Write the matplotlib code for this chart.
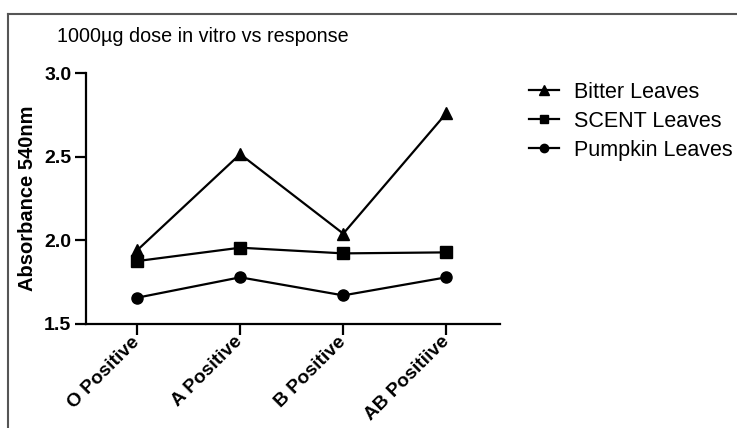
import matplotlib
matplotlib.use("Agg")
import matplotlib.pyplot as plt
from matplotlib.lines import Line2D

plt.rcParams['font.family'] = ['Liberation Sans', 'DejaVu Sans']

categories = ["O Positive", "A Positive", "B Positive", "AB Positiive"]
bitter = [1.94, 2.515, 2.04, 2.76]
scent = [1.876, 1.956, 1.922, 1.928]
pumpkin = [1.657, 1.779, 1.671, 1.779]
series_names = ["Bitter Leaves", "SCENT Leaves", "Pumpkin Leaves"]
y_ticks = [1.5, 2.0, 2.5, 3.0]

W, H = 737, 428
fig = plt.figure(figsize=(W / 100, H / 100), dpi=100)
ax = fig.add_axes([86 / W, 1 - 324 / H, (500 - 86) / W, (324 - 73) / H])

x = list(range(len(categories)))
ax.plot(x, bitter, color='black', lw=1.6, marker='^', ms=9, label=series_names[0])
ax.plot(x, scent, color='black', lw=1.6, marker='s', ms=8, label=series_names[1])
ax.plot(x, pumpkin, color='black', lw=1.6, marker='o', ms=8, label=series_names[2])

ax.set_xlim(-0.495, 3.52)
ax.set_ylim(1.5, 3.0)
ax.set_yticks(y_ticks)
ax.set_yticklabels([f"{v:.1f}" for v in y_ticks], fontweight='bold', fontsize=14)
ax.set_xticks(x)
ax.set_xticklabels(categories, rotation=45, ha='right', va='center',
                   rotation_mode='anchor', fontweight='bold', fontsize=13.8)
ax.tick_params(axis='y', direction='out', length=8, width=1.6, pad=2.5)
ax.tick_params(axis='x', direction='out', length=8, width=1.6, pad=3)
for s in ['top', 'right']:
    ax.spines[s].set_visible(False)
for s in ['left', 'bottom']:
    ax.spines[s].set_linewidth(1.6)
ax.set_ylabel("Absorbance 540nm", fontweight='bold', fontsize=14.5, labelpad=5)

fig.text(57 / W, 1 - 36 / H, "1000\u00b5g dose in vitro vs response", fontsize=14.2,
         ha='left', va='center')

leg = ax.legend(loc='upper left', bbox_to_anchor=(520 / W, 1 - 73 / H),
                bbox_transform=fig.transFigure, frameon=False, fontsize=15.5,
                handlelength=1.4, handletextpad=0.7, labelspacing=0.38,
                borderaxespad=0, markerscale=0.75)

# figure frame lines (top and left)
fig.add_artist(Line2D([8 / W, 1], [1 - 14 / H, 1 - 14 / H], color='#555555', lw=1.5,
                      transform=fig.transFigure))
fig.add_artist(Line2D([8 / W, 8 / W], [0, 1 - 14 / H], color='#555555', lw=1.5,
                      transform=fig.transFigure))

fig.savefig("out.png", dpi=100)
